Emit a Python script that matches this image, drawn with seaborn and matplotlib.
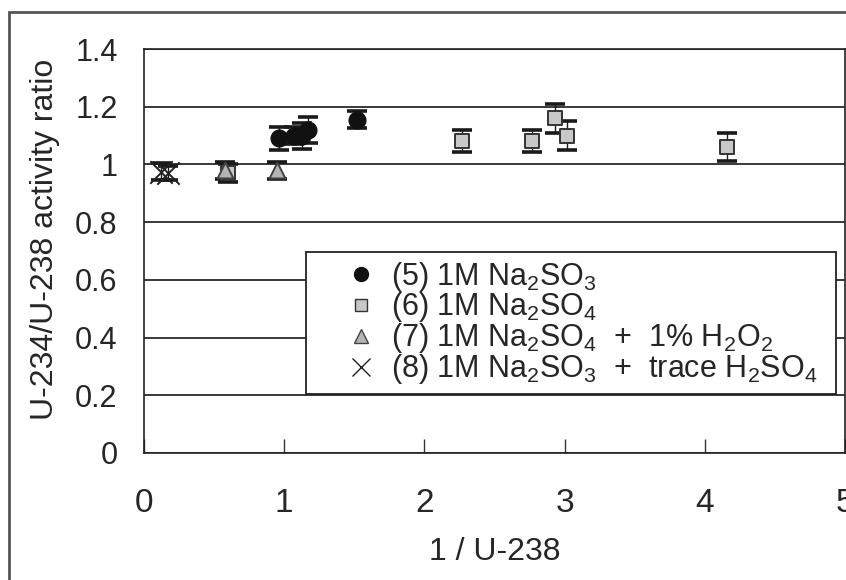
import matplotlib
matplotlib.use("Agg")
import matplotlib.pyplot as plt
from matplotlib.lines import Line2D
from matplotlib.patches import Rectangle
import seaborn as sns
import pandas as pd

# (5) 1M Na2SO3
na2so3_x = [0.96, 1.07, 1.13, 1.17, 1.52]
na2so3_y = [1.09, 1.10, 1.10, 1.12, 1.155]
na2so3_err = [0.04, 0.03, 0.045, 0.045, 0.03]

# (6) 1M Na2SO4
na2so4_x = [0.60, 2.27, 2.77, 2.93, 3.02, 4.16]
na2so4_y = [0.97, 1.08, 1.08, 1.16, 1.10, 1.06]
na2so4_err = [0.03, 0.038, 0.038, 0.05, 0.05, 0.048]

# (7) 1M Na2SO4 + 1% H2O2
h2o2_x = [0.58, 0.95]
h2o2_y = [0.98, 0.98]
h2o2_err = [0.03, 0.03]

# (8) 1M Na2SO3 + trace H2SO4
h2so4_x = [0.12, 0.17]
h2so4_y = [0.975, 0.97]
h2so4_err = [0.03, 0.025]

labels = [
    r"(5) 1M Na$_\mathregular{2}$SO$_\mathregular{3}$",
    r"(6) 1M Na$_\mathregular{2}$SO$_\mathregular{4}$",
    r"(7) 1M Na$_\mathregular{2}$SO$_\mathregular{4}$  +  1% H$_\mathregular{2}$O$_\mathregular{2}$",
    r"(8) 1M Na$_\mathregular{2}$SO$_\mathregular{3}$  +  trace H$_\mathregular{2}$SO$_\mathregular{4}$",
]
x_ticks = [0, 1, 2, 3, 4, 5]
y_ticks = [0, 0.2, 0.4, 0.6, 0.8, 1, 1.2, 1.4]
y_ticklabels = ["0", "0.2", "0.4", "0.6", "0.8", "1", "1.2", "1.4"]

sns.set_theme(style="white")
plt.rcParams["font.family"] = ["Liberation Sans", "DejaVu Sans"]
plt.rcParams["mathtext.fontset"] = "custom"
plt.rcParams["mathtext.rm"] = "Liberation Sans"
plt.rcParams["mathtext.it"] = "Liberation Sans:italic"
plt.rcParams["mathtext.bf"] = "Liberation Sans:bold"

fig = plt.figure(figsize=(8.46, 5.80), dpi=100)
ax = fig.add_axes([144 / 846, 127 / 580, 701 / 846, 404 / 580])

# outer chart frame
fig.patches.append(Rectangle((9 / 846, -0.1), 1.2, (580 - 12) / 580 + 0.1,
                             transform=fig.transFigure, fill=False,
                             edgecolor="#555555", linewidth=2.0, zorder=0))

styles = [
    dict(x=na2so3_x, y=na2so3_y, err=na2so3_err, marker="o", s=150,
         face="#111111", edge="#111111", lw=0.8),
    dict(x=na2so4_x, y=na2so4_y, err=na2so4_err, marker="s", s=95,
         face="#c8c8c8", edge="#333333", lw=1.4),
    dict(x=h2o2_x, y=h2o2_y, err=h2o2_err, marker="^", s=130,
         face="#b4b4b4", edge="#444444", lw=1.4),
    dict(x=h2so4_x, y=h2so4_y, err=h2so4_err, marker="x", s=260,
         face="#222222", edge="#222222", lw=1.4),
]

for st in styles:
    df = pd.DataFrame({"x": st["x"], "y": st["y"]})
    ax.errorbar(st["x"], st["y"], yerr=st["err"], fmt="none",
                ecolor="#1a1a1a", elinewidth=1.0, capsize=7.5, capthick=2.6,
                zorder=3)
    if st["marker"] == "x":
        sns.scatterplot(data=df, x="x", y="y", ax=ax, marker="x",
                        s=st["s"], color=st["face"], linewidth=st["lw"],
                        zorder=4, legend=False)
    else:
        sns.scatterplot(data=df, x="x", y="y", ax=ax, marker=st["marker"],
                        s=st["s"], color=st["face"], edgecolor=st["edge"],
                        linewidth=st["lw"], zorder=4, legend=False)

ax.set_xlim(0, 5)
ax.set_ylim(0, 1.4)
ax.set_xticks(x_ticks)
ax.set_xticklabels([str(t) for t in x_ticks], fontsize=24)
ax.set_yticks(y_ticks)
ax.set_yticklabels(y_ticklabels, fontsize=22)
ax.tick_params(axis="x", direction="in", length=10, width=1.0,
               color="#333333", pad=25, bottom=True)
ax.tick_params(axis="y", length=0, pad=19)
ax.yaxis.grid(True, color="#2a2a2a", linewidth=1.3)
ax.xaxis.grid(False)
ax.set_axisbelow(True)
for sp in ax.spines.values():
    sp.set_color("#222222")
    sp.set_linewidth(1.2)

ax.set_xlabel("1 / U-238", fontsize=23, labelpad=13)
ax.set_ylabel("U-234/U-238 activity ratio", fontsize=23)
ax.yaxis.set_label_coords(-0.12, 0.53)

handles = []
for st in styles:
    ms = {"o": 10, "s": 9, "^": 10, "x": 13}[st["marker"]]
    handles.append(Line2D([], [], linestyle="none", marker=st["marker"],
                          markersize=ms, markerfacecolor=st["face"],
                          markeredgecolor=st["edge"], markeredgewidth=1.0))
leg = ax.legend(handles, labels, loc="lower left",
                bbox_to_anchor=(0.231, 0.146, 0.756, 0.35), mode="expand",
                borderaxespad=0, fontsize=22, frameon=True, fancybox=False,
                shadow=False, borderpad=0.25, handlelength=3.08,
                handletextpad=-0.55, labelspacing=-0.1)
leg.get_frame().set_edgecolor("#222222")
leg.get_frame().set_linewidth(1.3)
leg.get_frame().set_alpha(1)

fig.savefig("out.png", dpi=100)
